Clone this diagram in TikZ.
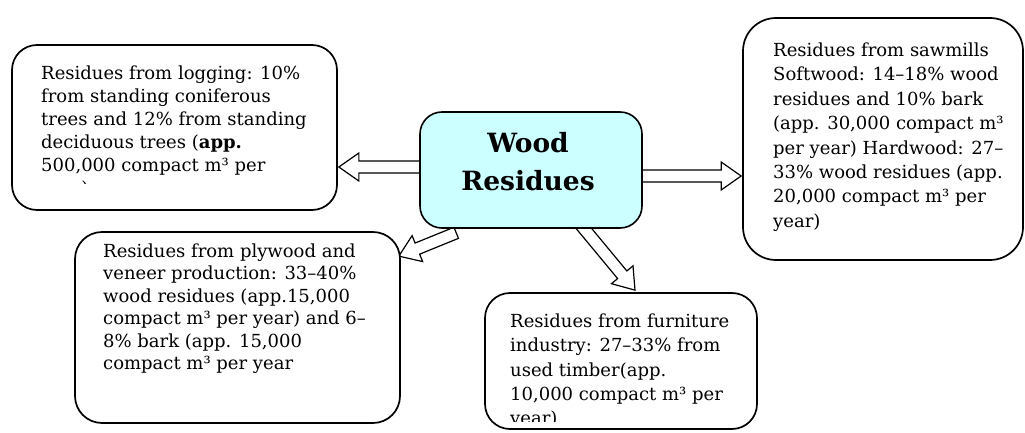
\documentclass[tikz,border=0pt]{standalone}
\usepackage{fontspec}
\setmainfont{DejaVu Serif}
\usetikzlibrary{calc}
\pgfdeclarelayer{bg}
\pgfsetlayers{bg,main}
\definecolor{woodfill}{RGB}{204,255,255}
\tikzset{
  box/.style={draw=black, line width=1.7pt, rounded corners=#1, fill=white, inner sep=0pt},
  centrebox/.style={draw=black, line width=1.6pt, rounded corners=22pt, fill=woodfill, inner sep=0pt},
  bodytext/.style={anchor=base west, inner sep=0pt, font=\fontsize{18}{#1}\selectfont},
  titletext/.style={anchor=base, inner sep=0pt, font=\fontsize{26.5}{38}\selectfont\bfseries},
  blockarrow/.style={draw=black, fill=white, line width=1.2pt, line join=miter}
}
\newcommand\boxlines[1]{\parbox[t]{500pt}{\raggedright #1}}
\newcommand\blockarrow[2]{%
  \coordinate (bah) at ($(#2)!20pt!(#1)$);
  \draw[blockarrow] ($(#1)!6pt!90:(#2)$) -- ($(bah)!6pt!-90:(#1)$) -- ($(bah)!14pt!-90:(#1)$)
    -- (#2) -- ($(bah)!14pt!90:(#1)$) -- ($(bah)!6pt!90:(#1)$) -- ($(#1)!6pt!-90:(#2)$) -- cycle;
}
\begin{document}
\begin{tikzpicture}[x=1pt,y=-1pt]
\useasboundingbox (0,0) rectangle (1025,433);
% boxes
\node[box=25pt, minimum width=325pt, minimum height=165pt] (log) at (174.5,127.5) {};
\node[centrebox, minimum width=222pt, minimum height=116pt] (wood) at (531,170) {};
\node[box=33pt, minimum width=280pt, minimum height=242pt] (saw) at (883,139) {};
\node[box=27pt, minimum width=325pt, minimum height=191pt] (ply) at (237.5,327.5) {};
\node[box=25pt, minimum width=272pt, minimum height=136pt] (furn) at (621,361) {};
% texts
\node[titletext] (twood) at (528,153) {\parbox[t]{200pt}{\centering Wood\\Residues}};
\begin{scope}
  \clip (12,45) rectangle (337,183);
  \node[bodytext=23] (tlog) at (41,79.5) {\boxlines{Residues from logging: 10\%\\from standing coniferous\\trees and 12\% from standing\\deciduous trees (\textbf{app.}\\500,000 compact m³ per\\year)}};
\end{scope}
\node[bodytext=24.4] (tsaw) at (773,56.5) {\boxlines{Residues from sawmills\\Softwood: 14–18\% wood\\residues and 10\% bark\\(app. 30,000 compact m³\\per year) Hardwood: 27–\\33\% wood residues (app.\\20,000 compact m³ per\\year)}};
\node[bodytext=22.4] (tply) at (103,257.5) {\boxlines{Residues from plywood and\\veneer production: 33–40\%\\wood residues (app.15,000\\compact m³ per year) and 6–\\8\% bark (app. 15,000\\compact m³ per year}};
\begin{scope}
  \clip (485,293) rectangle (757,421);
  \node[bodytext=24.25] (tfurn) at (510,327.5) {\boxlines{Residues from furniture\\industry: 27–33\% from\\used timber(app.\\10,000 compact m³ per\\year)}};
\end{scope}
% arrows
\begin{pgfonlayer}{bg}
  \coordinate (aLs) at ($(wood.west)+(10,-3)$);
  \coordinate (aLe) at ($(log.east |- aLs)+(1,0)$);
  \blockarrow{aLs}{aLe}
  \coordinate (aRs) at ($(wood.east)+(-10,6)$);
  \coordinate (aRe) at ($(saw.west |- aRs)+(-1,0)$);
  \blockarrow{aRs}{aRe}
  \coordinate (aBLs) at ($(wood.south west)+(37,4)$);
  \coordinate (aBLe) at ($(ply.north east)+(-2,25)$);
  \blockarrow{aBLs}{aBLe}
  \coordinate (aBRs) at ($(wood.south)+(49,-5)$);
  \coordinate (aBRe) at ($(furn.north)+(14,-2)$);
  \blockarrow{aBRs}{aBRe}
\end{pgfonlayer}
\end{tikzpicture}
\end{document}
